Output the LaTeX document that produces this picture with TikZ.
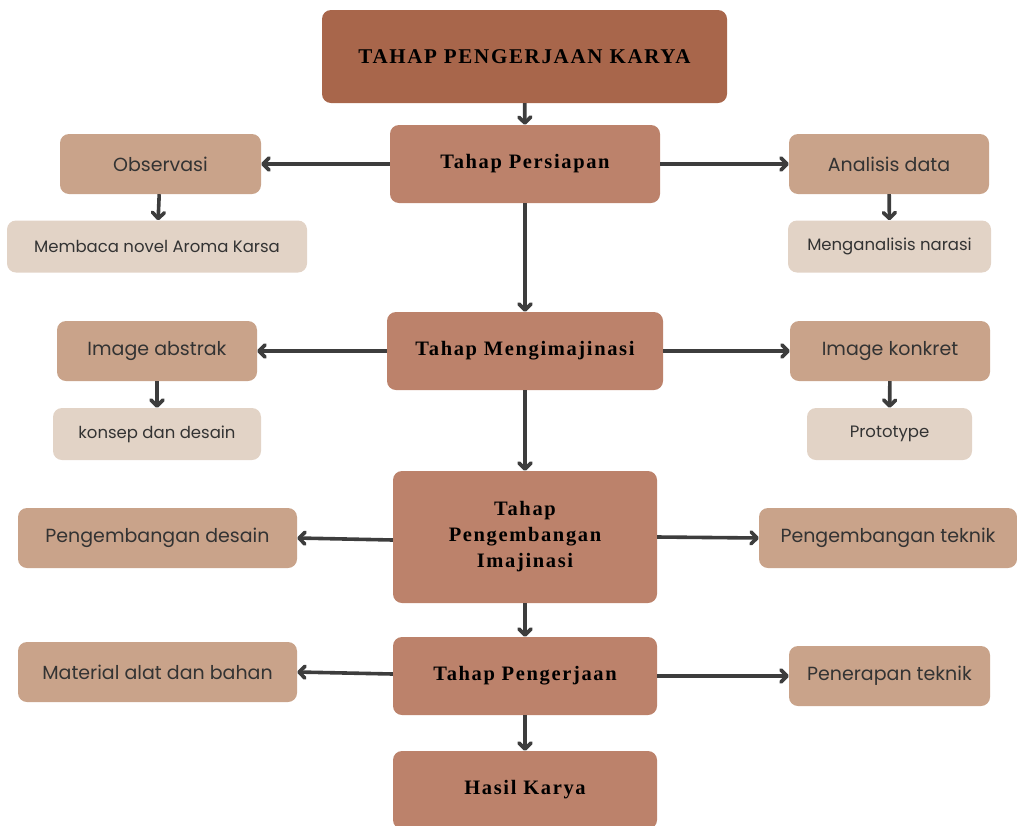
\documentclass[tikz,border=0pt]{standalone}
\usepackage{fontspec}
\setmainfont{Liberation Serif}
\newfontfamily\boxfont{Poppins}
\newfontfamily\stagefont[LetterSpace=8]{Liberation Serif}
\usetikzlibrary{arrows.meta}
\definecolor{titlebrown}{HTML}{A8664B}
\definecolor{stagebrown}{HTML}{BC826B}
\definecolor{sidetan}{HTML}{C9A38A}
\definecolor{lightsand}{HTML}{E2D3C6}
\definecolor{arrowgray}{HTML}{3D3D3D}
\tikzset{x=1pt, y=-1pt,
every stage/.style={ % main column boxes
rounded corners=9pt,
fill=stagebrown,
draw=none,
font=\stagefont\bfseries\fontsize{20.5}{26}\selectfont,
align=center},
stage/.style={every stage, minimum width=264pt, minimum height=78pt},
sidebox/.style={ % boxes beside the column
rounded corners=9pt,
fill=sidetan,
minimum height=60pt,
font=\boxfont\fontsize{19}{22}\selectfont,
text=black!80},
notebox/.style={ % lighter boxes below
rounded corners=9pt,
fill=lightsand,
minimum height=52pt,
font=\boxfont\fontsize{16.5}{20}\selectfont,
text=black!80},
link/.style={ % connectors
draw=arrowgray,
line width=3.6pt,
-{Straight Barb[length=6pt,width=12pt,line width=3.6pt,round]}}}

\begin{document}
\begin{tikzpicture}
\useasboundingbox (0,0) rectangle (1017,825);
\node[stage, fill=titlebrown, minimum width=405pt, minimum height=93pt,
  font=\stagefont\bfseries\fontsize{21}{26}\selectfont] (title) at (524.5,56.5) {TAHAP PENGERJAAN KARYA};
\node[stage, minimum width=270pt] (prep) at (525,164) {Tahap Persiapan};
\node[stage, minimum width=276pt] (imag) at (525,351) {Tahap Mengimajinasi};
\node[stage, minimum height=132pt] (dev) at (525,537) {Tahap\\Pengembangan\\Imajinasi};
\node[stage] (work) at (525,676) {Tahap Pengerjaan};
\node[stage] (result) at (525,790) {Hasil Karya};

\node[sidebox, minimum width=201pt] (obs) at (160.5,164) {Observasi};
\node[notebox, minimum width=300pt] (read) at (157,246.5) {Membaca novel Aroma Karsa};
\node[sidebox, minimum width=200pt] (anal) at (889,164) {Analisis data};
\node[notebox, minimum width=203pt] (narr) at (889.5,246.5) {Menganalisis narasi};
\node[sidebox, minimum width=200pt] (abst) at (157,351) {Image abstrak};
\node[notebox, minimum width=208pt] (conc) at (157,434) {konsep dan desain};
\node[sidebox, minimum width=200pt] (konk) at (890,351) {Image konkret};
\node[notebox, minimum width=165pt] (proto) at (889.5,434) {Prototype};
\node[sidebox, minimum width=279pt] (ddes) at (157.5,538) {Pengembangan desain};
\node[sidebox, minimum width=258pt] (dtek) at (888,538) {Pengembangan teknik};
\node[sidebox, minimum width=279pt] (mat) at (157.5,672) {Material alat dan bahan};
\node[sidebox, minimum width=201pt] (apply) at (889.5,676) {Penerapan teknik};

\draw[link] (title) -- (prep);
\draw[link] (prep) -- (imag);
\draw[link] (imag) -- (dev);
\draw[link] (dev) -- (work);
\draw[link] (work) -- (result);
\draw[link] (prep) -- (obs);
\draw[link] (prep) -- (anal);
\draw[link] (obs) -- (read);
\draw[link] (anal) -- (narr);
\draw[link] (imag) -- (abst);
\draw[link] (imag) -- (konk);
\draw[link] (abst) -- (conc);
\draw[link] (konk) -- (proto);
\draw[link] (dev.west |- 0,540) -- (ddes.east);
\draw[link] (dev.east |- 0,537) -- (dtek.west);
\draw[link] (work.west |- 0,674) -- (mat.east);
\draw[link] (work) -- (apply);
\end{tikzpicture}
\end{document}
